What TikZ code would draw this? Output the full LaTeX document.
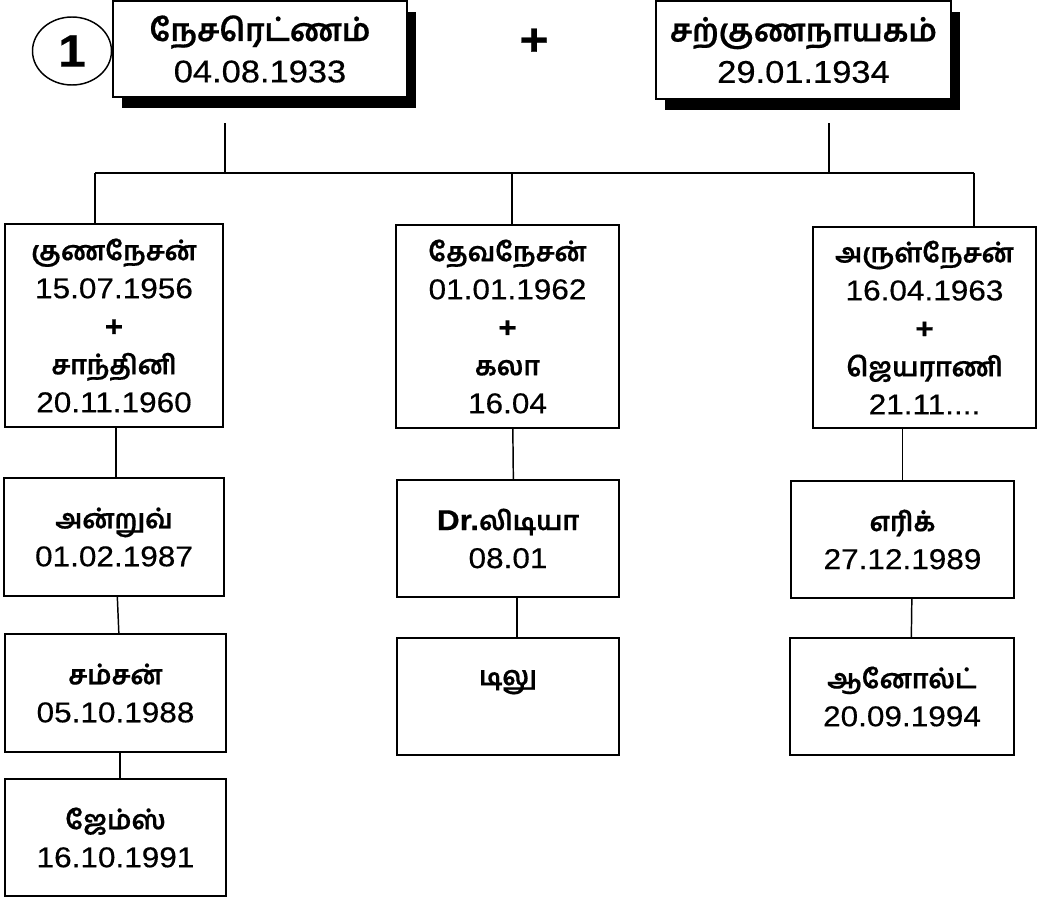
\documentclass[tikz,border=0pt]{standalone}
\usepackage{fontspec}
\setmainfont{Liberation Sans}[FakeStretch=1.1, FakeBold=0.4]
\newfontfamily\tamfont[Script=Tamil, FakeBold=0.5]{Hind Madurai}
\newcommand{\tml}[1]{{\tamfont\bfseries #1}}
\newcommand{\tms}[1]{{\tamfont\bfseries\fontsize{20}{28.5}\selectfont #1}}
\usetikzlibrary{shadows,shapes.geometric}
\tikzset{
  box/.style={draw, line width=1.6pt, fill=white, align=center, inner sep=0pt,
    font=\fontsize{21.5}{28.5}\selectfont},
  topbox/.style={box, font=\fontsize{23.5}{31}\selectfont,
    drop shadow={shadow xshift=7pt, shadow yshift=-8pt, fill=black, opacity=1}},
  sz/.style 2 args={minimum width=#1*0.75pt, minimum height=#2*0.75pt},
  conn/.style={line width=1.1pt},
}
\begin{document}
\begin{tikzpicture}[x=0.75pt, y=-0.75pt]
\useasboundingbox[fill=white] (0,0) rectangle (1038,900);

% connectors of the top level
\coordinate (j1) at (225,123);
\coordinate (j2) at (829,123);
\coordinate (bl) at (95,173);
\coordinate (bm) at (512,173);
\coordinate (br) at (974,173);

% parents
\node[topbox, sz={294}{96}] (P1) at (260,49) {\tml{நேசரெட்ணம்}\\04.08.1933};
\node[topbox, sz={295}{98}] (P2) at (803.5,50) {\tml{சற்குணநாயகம்}\\29.01.1934};
\node[draw, ellipse, line width=1.1pt, fill=white, inner sep=0pt, sz={79}{68},
  font=\bfseries\fontsize{34}{34}\selectfont] (num) at (72,51) {1};
\node[font=\bfseries\fontsize{34}{34}\selectfont] (plus) at (534,42) {+};

% children
\node[box, sz={218}{203}] (C1) at (114,325.5)
  {\tms{குணநேசன்}\\15.07.1956\\\textbf{+}\\\tms{சாந்தினி}\\20.11.1960};
\node[box, sz={223}{203}] (C2) at (507.5,326.5)
  {\tms{தேவநேசன்}\\01.01.1962\\\textbf{+}\\\tms{கலா}\\16.04};
\node[box, sz={223}{201}] (C3) at (924.5,327.5)
  {\tms{அருள்நேசன்}\\16.04.1963\\\textbf{+}\\\tms{ஜெயராணி}\\21.11....};

% grandchildren
\node[box, sz={220}{118}] (G1a) at (114,537) {\tms{அன்றுவ்}\\01.02.1987};
\node[box, sz={221}{118}] (G1b) at (115.5,693) {\tms{சம்சன்}\\05.10.1988};
\node[box, sz={221}{117}] (G1c) at (115.5,837.5) {\tms{ஜேம்ஸ்}\\16.10.1991};
\node[box, sz={222}{117}] (G2a) at (508,538.5) {\textbf{Dr.}\tms{லிடியா}\\08.01};
\node[box, sz={222}{117}] (G2b) at (508,696.5) {\tms{டிலு}\\\mbox{}};
\node[box, sz={223}{117}] (G3a) at (902.5,539.5) {\tms{எரிக்}\\27.12.1989};
\node[box, sz={224}{117}] (G3b) at (902,696.5) {\tms{ஆனோல்ட்}\\20.09.1994};

% lines
\draw[conn] (j1) -- (j1 |- bl);
\draw[conn] (j2) -- (j2 |- bl);
\draw[conn] (bl) -- (br);
\draw[conn] (bl) -- (bl |- C1.north);
\draw[conn] (bm) -- (bm |- C2.north);
\draw[conn] (br) -- (br |- C3.north);

\draw[conn] ([xshift=1.5pt]C1.south) -- ([xshift=1.5pt]G1a.north);
\draw[conn] ([xshift=2.5pt]G1a.south) -- ([xshift=2.5pt]G1b.north);
\draw[conn] ([xshift=3.5pt]G1b.south) -- ([xshift=3.5pt]G1c.north);
\draw[conn] ([xshift=4pt]C2.south) -- ([xshift=4pt]G2a.north);
\draw[conn] ([xshift=6.75pt]G2a.south) -- ([xshift=6.75pt]G2b.north);
\draw[conn] (G3a.north) -- (G3a.north |- C3.south);
\draw[conn] ([xshift=7pt]G3a.south) -- ([xshift=7pt]G3b.north);
\end{tikzpicture}
\end{document}
